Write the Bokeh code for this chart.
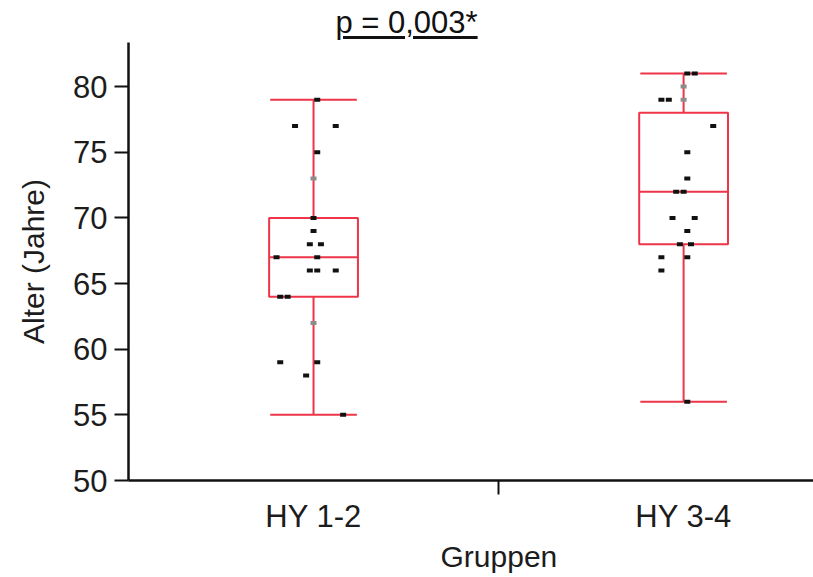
from bokeh.plotting import figure
from bokeh.models import Div, Title, FixedTicker, Range1d, ColumnDataSource
from bokeh.layouts import column
from bokeh.embed import file_html
from bokeh.resources import INLINE

# Groups and box statistics (age in years)
groups = ["HY 1-2", "HY 3-4"]
whisker_low = [55, 56]
q1 = [64, 68]
median = [67, 72]
q3 = [70, 78]
whisker_high = [79, 81]

# Individual ages with their horizontal jitter (in category widths)
hy12_ages = [79, 77, 77, 75, 73, 70, 69, 68, 68, 67, 67, 66, 66, 66, 64, 64, 62, 59, 59, 58, 55]
hy12_jitter = [0.01, -0.05, 0.06, 0.01, 0.0, 0.0, 0.0, -0.01, 0.02, -0.10, 0.01,
               -0.01, 0.01, 0.06, -0.09, -0.07, 0.0, -0.09, 0.01, -0.02, 0.08]
hy12_faded = [4, 16]

hy34_ages = [81, 81, 80, 79, 79, 79, 77, 75, 73, 72, 72, 70, 70, 69, 68, 68, 67, 67, 66, 56]
hy34_jitter = [0.01, 0.03, 0.0, -0.06, -0.04, 0.0, 0.08, 0.01, 0.01, -0.02, 0.0,
               -0.03, 0.03, 0.01, -0.01, 0.02, -0.06, 0.01, -0.06, 0.01]
hy34_faded = [2, 5]

y_ticks = [50, 55, 60, 65, 70, 75, 80]

FONT = "Liberation Sans"
TEXT = "#1c1c1c"
RED = "#ee3448"

centers = [i + 0.5 for i in range(len(groups))]
box_half = 0.12
cap_half = 0.117

p = figure(width=813, height=531, x_range=Range1d(0, 1.851), y_range=Range1d(50, 83.36),
           output_backend="svg", toolbar_location=None,
           min_border_left=128, min_border_right=0, min_border_top=0, min_border_bottom=93)
p.margin = (0, 0, 4, 0)
p.outline_line_color = None
p.xgrid.visible = False
p.ygrid.visible = False
p.background_fill_color = "white"

# Boxes, medians, whiskers and caps
box_src = ColumnDataSource(dict(
    center=centers, left=[c - box_half for c in centers], right=[c + box_half for c in centers],
    cap_l=[c - cap_half for c in centers], cap_r=[c + cap_half for c in centers],
    lo=whisker_low, q1=q1, med=median, q3=q3, hi=whisker_high))
p.quad(left="left", right="right", bottom="q1", top="q3", source=box_src,
       fill_color=None, line_color=RED, line_width=2)
p.segment(x0="left", x1="right", y0="med", y1="med", source=box_src, line_color=RED, line_width=2)
p.segment(x0="center", x1="center", y0="q3", y1="hi", source=box_src, line_color=RED, line_width=2)
p.segment(x0="center", x1="center", y0="lo", y1="q1", source=box_src, line_color=RED, line_width=2)
p.segment(x0="cap_l", x1="cap_r", y0="hi", y1="hi", source=box_src, line_color=RED, line_width=2)
p.segment(x0="cap_l", x1="cap_r", y0="lo", y1="lo", source=box_src, line_color=RED, line_width=2)

# Jittered individual points
for c, ages, jit, faded in [(centers[0], hy12_ages, hy12_jitter, hy12_faded),
                            (centers[1], hy34_ages, hy34_jitter, hy34_faded)]:
    colors = ["#8c8c8c" if i in faded else "#111111" for i in range(len(ages))]
    src = ColumnDataSource(dict(x=[c + j for j in jit], y=ages, color=colors))
    p.rect(x="x", y="y", width=6, height=4, width_units="screen", height_units="screen",
           source=src, fill_color="color", line_color=None)

# Y axis
ya = p.yaxis[0]
ya.ticker = FixedTicker(ticks=y_ticks)
ya.axis_label = "Alter (Jahre)"
ya.axis_label_text_font = FONT
ya.axis_label_text_font_size = "30px"
ya.axis_label_text_font_style = "normal"
ya.axis_label_text_color = TEXT
ya.axis_label_standoff = 20
ya.major_label_text_font = FONT
ya.major_label_text_font_size = "31px"
ya.major_label_text_color = TEXT
ya.major_label_standoff = 7
ya.axis_line_width = 2.5
ya.axis_line_color = "#111111"
ya.major_tick_line_width = 2
ya.major_tick_line_color = "#111111"
ya.major_tick_out = 14
ya.major_tick_in = 0
ya.minor_tick_out = 0
ya.minor_tick_in = 0

# X axis: group names without ticks, one tick between groups
xa = p.xaxis[0]
xa.ticker = FixedTicker(ticks=centers, minor_ticks=[1.0])
xa.major_label_overrides = {c: g for c, g in zip(centers, groups)}
xa.major_label_text_font = FONT
xa.major_label_text_font_size = "31px"
xa.major_label_text_color = TEXT
xa.major_label_standoff = 4
xa.major_tick_out = 0
xa.major_tick_in = 0
xa.minor_tick_out = 14
xa.minor_tick_in = 0
xa.minor_tick_line_width = 2
xa.minor_tick_line_color = "#111111"
xa.axis_line_width = 2.5
xa.axis_line_color = "#111111"

# Axis title under the middle tick
p.add_layout(Title(text="Gruppen", align="left", offset=312, standoff=2,
                   text_font=FONT, text_font_size="30px", text_font_style="normal",
                   text_color=TEXT), "below")

title = Div(text=('<div style="width:813px;text-align:center;font-family:\'Liberation Sans\',Arial,sans-serif;'
                  'font-size:31px;line-height:36px;padding-top:5px;color:#111;text-decoration:underline;'
                  'text-decoration-thickness:3px;text-underline-offset:3px;">p = 0,003*</div>'),
            width=813, height=42, margin=(0, 0, 0, 0))

layout = column(title, p, spacing=0, margin=(0, 0, 0, 0))

open("out.html", "w").write(file_html(layout, INLINE))
